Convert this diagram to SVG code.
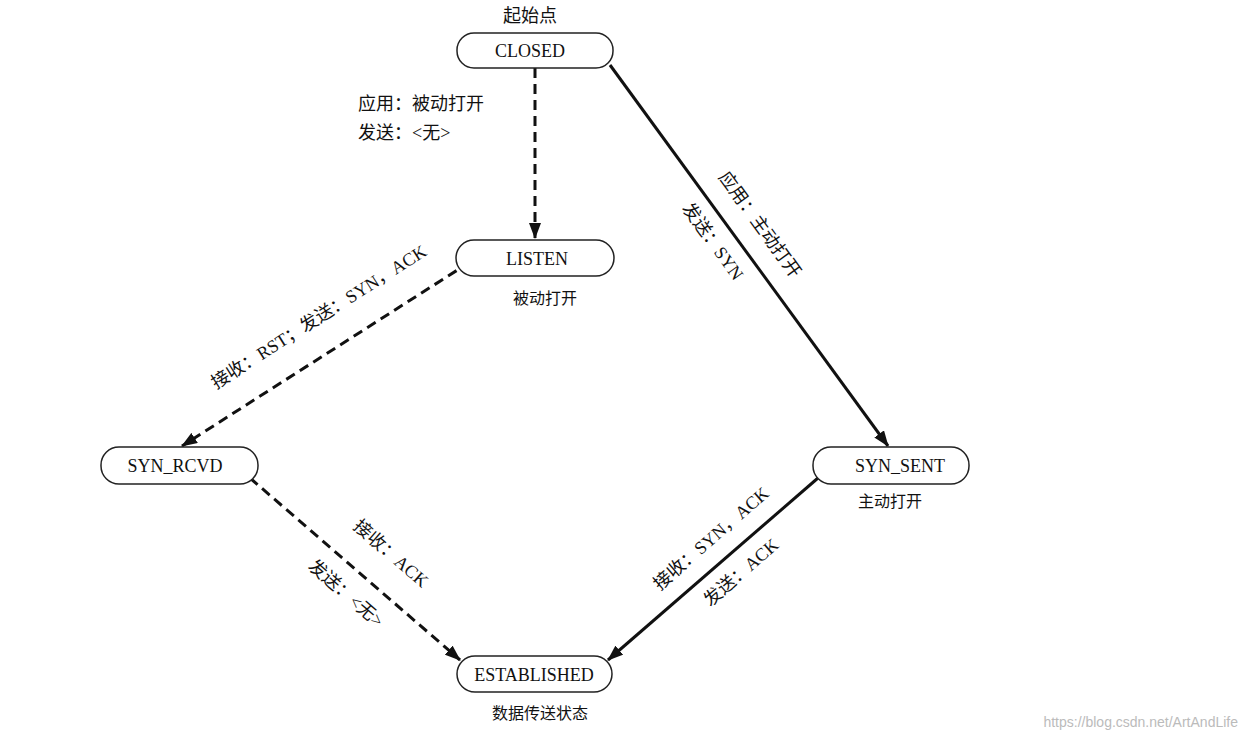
<svg xmlns="http://www.w3.org/2000/svg" width="1248" height="740" viewBox="0 0 1248 740">
<style>
text{font-family:"Liberation Serif","Noto Sans CJK SC",serif;font-size:18px;fill:#111}
.n{fill:#fff;stroke:#222;stroke-width:1.5}
.c{stroke:#111;stroke-width:3;fill:none}
.d{stroke-dasharray:10 6}
.s{font-size:16px}
</style>
<defs>
<marker id="b" markerWidth="16" markerHeight="12" refX="15" refY="6" orient="auto" markerUnits="userSpaceOnUse" viewBox="0 0 16 12"><path d="M0,0 L16,6 L0,12 Z" fill="#111"/></marker></defs>
<rect width="1248" height="740" fill="#fff"/>
<g id="connectors">
<path class="c d" d="M535,68 L535,238" marker-end="url(#b)"/>
<path class="c" d="M610,65 L888,446" marker-end="url(#b)"/>
<path class="c d" d="M470,262 L182,446" marker-end="url(#b)"/>
<path class="c d" d="M250,478 L460,660" marker-end="url(#b)"/>
<path class="c" d="M818,478 L608,660" marker-end="url(#b)"/>
<text x="358" y="110">应用：被动打开</text>
<text x="358" y="139">发送：&lt;无&gt;</text>
<text transform="translate(755,228) rotate(54)" text-anchor="middle">应用：主动打开</text>
<text transform="translate(708,245) rotate(54)" text-anchor="middle">发送：SYN</text>
<text transform="translate(322,322) rotate(-32.5)" text-anchor="middle">接收：RST；发送：SYN，ACK</text>
<text transform="translate(387,558) rotate(41)" text-anchor="middle">接收：ACK</text>
<text transform="translate(342,598) rotate(41)" text-anchor="middle">发送：&lt;无&gt;</text>
<text transform="translate(715,543) rotate(-41)" text-anchor="middle">接收：SYN，ACK</text>
<text transform="translate(745,577) rotate(-41)" text-anchor="middle">发送：ACK</text>
</g>
<g id="closed"><text x="530" y="22" text-anchor="middle">起始点</text><rect class="n" x="457" y="33" width="156" height="35" rx="17"/><text x="530" y="57" text-anchor="middle">CLOSED</text></g>
<g id="listen"><rect class="n" x="456" y="240" width="158" height="36" rx="18"/><text x="537" y="265" text-anchor="middle">LISTEN</text><text class="s" x="545" y="304" text-anchor="middle">被动打开</text></g>
<g id="synrcvd"><rect class="n" x="101" y="447" width="157" height="37" rx="18"/><text x="175" y="472" text-anchor="middle">SYN_RCVD</text></g>
<g id="synsent"><rect class="n" x="813" y="447" width="156" height="37" rx="18"/><text x="900" y="472" text-anchor="middle">SYN_SENT</text><text class="s" x="890" y="507" text-anchor="middle">主动打开</text></g>
<g id="established"><rect class="n" x="457" y="656" width="155" height="36" rx="18"/><text x="534" y="681" text-anchor="middle">ESTABLISHED</text><text class="s" x="540" y="719" text-anchor="middle">数据传送状态</text></g>
<text x="1238" y="727" text-anchor="end" style="font-family:'Liberation Sans',sans-serif;font-size:14px;fill:#bbb">https://blog.csdn.net/ArtAndLife</text>
</svg>
